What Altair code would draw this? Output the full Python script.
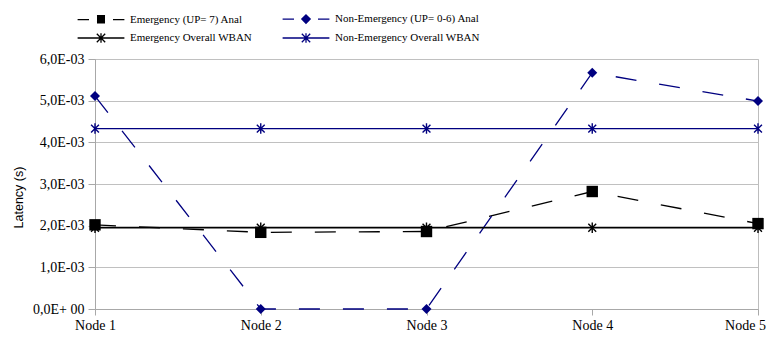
import altair as alt
import pandas as pd

nodes = ["Node 1", "Node 2", "Node 3", "Node 4", "Node 5"]
series_names = [
    "Emergency (UP= 7) Anal",
    "Non-Emergency (UP= 0-6) Anal",
    "Emergency Overall WBAN",
    "Non-Emergency Overall WBAN",
]
emergency_anal = [2.02e-3, 1.84e-3, 1.86e-3, 2.82e-3, 2.05e-3]
nonemergency_anal = [5.11e-3, 0.0, 0.0, 5.67e-3, 4.99e-3]
emergency_wban = [1.95e-3, 1.95e-3, 1.95e-3, 1.95e-3, 1.95e-3]
nonemergency_wban = [4.33e-3, 4.33e-3, 4.33e-3, 4.33e-3, 4.33e-3]

y_tick_values = [0.0, 0.001, 0.002, 0.003, 0.004, 0.005, 0.006]
y_tick_labels = ["0,0E+ 00", "1,0E-03", "2,0E-03", "3,0E-03", "4,0E-03", "5,0E-03", "6,0E-03"]

rows = []
for name, vals in zip(series_names, [emergency_anal, nonemergency_anal, emergency_wban, nonemergency_wban]):
    for n, v in zip(nodes, vals):
        rows.append({"node": n, "series": name, "value": v})
df = pd.DataFrame(rows)

NAVY = "#000080"
BLACK = "#000000"
colors = [BLACK, NAVY, BLACK, NAVY]
dashes = [[21, 23], [21, 23], [1, 0], [1, 0]]

# label expression built from the tick label list
expr = "''"
for v, lab in reversed(list(zip(y_tick_values, y_tick_labels))):
    expr = f"abs(datum.value - {v}) < 0.0001 ? '{lab}' : ({expr})"

SERIF = "Liberation Serif, Times New Roman, serif"

x_enc = alt.X(
    "node:N",
    sort=nodes,
    scale=alt.Scale(type="point", padding=0),
    axis=alt.Axis(
        title=None, labelAngle=0, labelFont=SERIF, labelFontSize=14,
        labelColor="black", tickColor="#a8a8a8", tickSize=6, domainColor="#a8a8a8",
        labelPadding=3, grid=False,
        labelOffset={"condition": {"test": f"datum.value === '{nodes[-1]}'", "value": -13}, "value": 0},
    ),
)
y_enc = alt.Y(
    "value:Q",
    scale=alt.Scale(domain=[0, 0.006], nice=False),
    axis=alt.Axis(
        values=y_tick_values, labelExpr=expr, title="Latency (s)",
        titleFont="Liberation Sans", titleFontSize=12.5, titleFontWeight="normal",
        titleColor="black", titleX=-77, titleY=138, titleAngle=270,
        titleAlign="center", titleBaseline="middle",
        labelFont=SERIF, labelFontSize=14, labelColor="black",
        tickColor="#a8a8a8", tickSize=7, labelPadding=4, domainColor="#a8a8a8",
        gridColor="#c0c0c0", gridWidth=1,
    ),
)

base = alt.Chart(df)

# data-layer scales use a reversed domain order so they are not merged with the legend
rev = [3, 2, 1, 0]
color_scale_data = alt.Scale(domain=[series_names[i] for i in rev], range=[colors[i] for i in rev])
dash_scale_data = alt.Scale(domain=[series_names[i] for i in rev], range=[dashes[i] for i in rev])

lines = base.mark_line(strokeWidth=1.3).encode(
    x=x_enc, y=y_enc,
    color=alt.Color("series:N", scale=color_scale_data, legend=None),
    strokeDash=alt.StrokeDash("series:N", scale=dash_scale_data, legend=None),
)

ASTERISK = "M0,-1V1M-0.75,-0.75L0.75,0.75M-0.75,0.75L0.75,-0.75"

squares = base.transform_filter(alt.datum.series == series_names[0]).mark_point(
    shape="square", filled=True, size=130, color=BLACK, opacity=1
).encode(x=x_enc, y=y_enc)

diamonds = base.transform_filter(alt.datum.series == series_names[1]).mark_point(
    shape="diamond", filled=True, size=100, color=NAVY, opacity=1
).encode(x=x_enc, y=y_enc)

asterisks = base.transform_filter(
    (alt.datum.series == series_names[2]) | (alt.datum.series == series_names[3])
).mark_point(shape=ASTERISK, filled=False, size=110, strokeWidth=1.4, opacity=1).encode(
    x=x_enc, y=y_enc,
    color=alt.Color("series:N", scale=color_scale_data, legend=None),
)

# legend symbols (Excel style: line - marker - line), unit = 6 px
def hatch_square(h):
    parts = []
    y = -h
    while y <= h + 1e-9:
        parts.append(f"M{-h:.2f},{y:.2f}H{h:.2f}")
        y += 0.2
    return "".join(parts)

def hatch_diamond(h):
    parts = [f"M0,{-h}L{h},0L0,{h}L{-h},0Z"]
    y = -h + 0.1
    while y <= h - 0.1 + 1e-9:
        w = h - abs(y)
        parts.append(f"M{-w:.2f},{y:.2f}H{w:.2f}")
        y += 0.2
    return "".join(parts)

seg = "M-3.9,0H-2.0M2.0,0H3.9"
full = "M-3.9,0H3.9"
star_small = "M0,-0.8V0.8M-0.7,-0.7L0.7,0.7M-0.7,0.7L0.7,-0.7"
legend_shapes = [
    seg + hatch_square(0.67),
    seg + hatch_diamond(0.7),
    full + star_small,
    full + star_small,
]

# legend is filled column by column: E Anal, E WBAN | NE Anal, NE WBAN
lo = [0, 2, 1, 3]
legend_domain = [series_names[i] for i in lo]

legend_props = dict(
    orient="none", legendX=-1, legendY=-47, columns=2, title=None,
    columnPadding=28, rowPadding=4, symbolSize=144, symbolStrokeWidth=1.3,
    labelOffset=22, labelFont=SERIF, labelFontSize=11,
    labelColor="black", labelLimit=300,
)

legend_layer = base.transform_filter("datum.value < -1").mark_point(
    filled=False, size=144, strokeWidth=1.3, opacity=1
).encode(
    x=x_enc, y=y_enc,
    stroke=alt.Stroke(
        "series:N", scale=alt.Scale(domain=legend_domain, range=[colors[i] for i in lo]),
        legend=alt.Legend(**legend_props),
    ),
    shape=alt.Shape(
        "series:N", scale=alt.Scale(domain=legend_domain, range=[legend_shapes[i] for i in lo]),
        legend=alt.Legend(**legend_props),
    ),
)

chart = alt.layer(lines, squares, diamonds, asterisks, legend_layer).properties(
    width=663,
    height=250,
    padding={"left": 87, "top": 51, "right": 8, "bottom": 28},
    autosize=alt.AutoSizeParams(type="none"),
    background="white",
).configure_view(stroke="#bdbdbd", strokeWidth=1)

chart.save("out.html", embed_options={"renderer": "svg", "actions": False})
